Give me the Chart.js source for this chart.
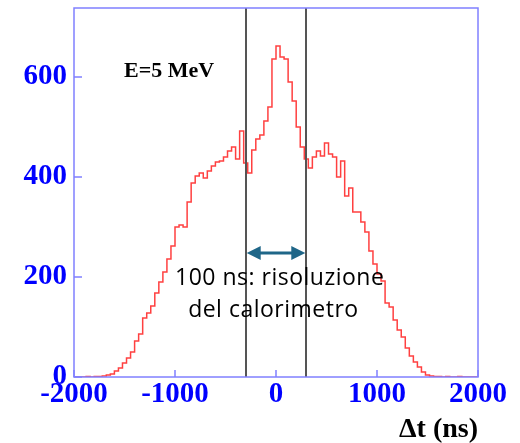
<!DOCTYPE html>
<html>
<head>
<meta charset="utf-8">
<script src="https://cdn.jsdelivr.net/npm/chart.js@4/dist/chart.umd.min.js"></script>
<style>
  html, body { margin: 0; padding: 0; background: #fff; }
  #wrap { width: 520px; height: 443px; }
</style>
</head>
<body>
<div id="wrap"><canvas id="myChart"></canvas></div>
<script>
// histogram of time differences, 40 ns bins starting at -2000
const binStart = -2000;
const binWidth = 40;
const conteggi = [
  0, 0, 0, 1, 0, 1, 1, 2, 4, 6,
  12, 18, 28, 38, 50, 72, 86, 118, 128, 142,
  168, 190, 210, 236, 262, 300, 304, 300, 350, 388,
  402, 408, 398, 412, 422, 430, 432, 440, 452, 460,
  436, 492, 428, 408, 454, 476, 484, 512, 540, 636,
  662, 640, 636, 590, 552, 500, 460, 436, 418, 440,
  452, 442, 468, 446, 440, 400, 432, 362, 378, 330,
  330, 310, 290, 252, 226, 206, 192, 148, 140, 114,
  94, 80, 58, 42, 30, 20, 10, 4, 2, 1,
  1, 0, 1, 0, 0, 1, 0, 0, 0, 0
];
const xTicks = [-2000, -1000, 0, 1000, 2000];
const yTicks = [0, 200, 400, 600];
const lineeVerticali = [-300, 300];   // 100 ns window markers
const frecciaY = 248;
const etichettaEnergia = 'E=5 MeV';
const notaRighe = ['100 ns: risoluzione', 'del calorimetro'];
const titoloAsseX = '\u0394t (ns)';

let punti = conteggi.map((c, i) => ({ x: binStart + i * binWidth, y: c }));
punti.push({ x: binStart + conteggi.length * binWidth, y: conteggi[conteggi.length - 1] });

const blu = '#0000ff';
const bordo = '#8080ff';

const decorazioni = {
  id: 'decorazioni',
  afterDatasetsDraw(chart) {
    const { ctx, chartArea: a, scales } = chart;
    const sx = scales.x, sy = scales.y;
    ctx.save();
    // vertical marker lines
    ctx.strokeStyle = '#555';
    ctx.lineWidth = 2;
    lineeVerticali.forEach(v => {
      const px = Math.round(sx.getPixelForValue(v));
      ctx.beginPath();
      ctx.moveTo(px, a.top);
      ctx.lineTo(px, a.bottom);
      ctx.stroke();
    });
    // frame
    ctx.strokeStyle = bordo;
    ctx.lineWidth = 1.5;
    ctx.strokeRect(a.left, a.top, a.right - a.left, a.bottom - a.top);
    // inward ticks
    ctx.beginPath();
    xTicks.forEach(v => {
      const px = sx.getPixelForValue(v);
      ctx.moveTo(px, a.bottom);
      ctx.lineTo(px, a.bottom - 7);
    });
    yTicks.forEach(v => {
      const py = sy.getPixelForValue(v);
      ctx.moveTo(a.left, py);
      ctx.lineTo(a.left + 8, py);
    });
    ctx.stroke();
    // double arrow
    const x1 = sx.getPixelForValue(lineeVerticali[0]) + 1;
    const x2 = sx.getPixelForValue(lineeVerticali[1]) - 1;
    const ay = sy.getPixelForValue(frecciaY);
    ctx.strokeStyle = '#1f6688';
    ctx.fillStyle = '#1f6688';
    ctx.lineWidth = 3;
    ctx.beginPath();
    ctx.moveTo(x1 + 10, ay);
    ctx.lineTo(x2 - 10, ay);
    ctx.stroke();
    ctx.beginPath();
    ctx.moveTo(x1, ay); ctx.lineTo(x1 + 14, ay - 7); ctx.lineTo(x1 + 14, ay + 7); ctx.closePath();
    ctx.moveTo(x2, ay); ctx.lineTo(x2 - 14, ay - 7); ctx.lineTo(x2 - 14, ay + 7); ctx.closePath();
    ctx.fill();
    ctx.restore();
  },
  afterDraw(chart) {
    const { ctx, chartArea: a, scales } = chart;
    const sx = scales.x, sy = scales.y;
    ctx.save();
    ctx.fillStyle = '#000';
    ctx.textBaseline = 'middle';
    ctx.textAlign = 'left';
    ctx.font = 'bold 22px "Liberation Serif", serif';
    ctx.fillText(etichettaEnergia, sx.getPixelForValue(-1505), sy.getPixelForValue(612));
    ctx.font = '23px "Open Sans", sans-serif';
    ctx.letterSpacing = '0.5px';
    ctx.fillText(notaRighe[0], sx.getPixelForValue(-1000), sy.getPixelForValue(198));
    ctx.fillText(notaRighe[1], sx.getPixelForValue(-870), sy.getPixelForValue(134));
    ctx.letterSpacing = '0px';
    ctx.font = 'bold 28px "Liberation Serif", serif';
    ctx.textAlign = 'right';
    ctx.fillText(titoloAsseX, a.right, 430);
    ctx.restore();
  }
};

const ctx = document.getElementById('myChart').getContext('2d');
const myChart = new Chart(ctx, {
  type: 'line',
  data: {
    datasets: [{
      data: punti,
      stepped: 'before',
      borderColor: 'rgba(255, 30, 30, 0.85)',
      borderWidth: 1.5,
      pointRadius: 0,
      fill: false
    }]
  },
  options: {
    responsive: true,
    maintainAspectRatio: false,
    animation: false,
    layout: { padding: { top: 8, right: 42, left: 0, bottom: 0 } },
    plugins: { legend: { display: false }, tooltip: { enabled: false } },
    scales: {
      x: {
        type: 'linear',
        min: -2000,
        max: 2000,
        afterBuildTicks: s => { s.ticks = xTicks.map(v => ({ value: v })); },
        afterFit: s => { s.height = 66; s.paddingLeft = 0; s.paddingRight = 0; },
        grid: { display: false, drawTicks: false },
        border: { display: false },
        ticks: {
          color: blu,
          font: { family: '"Liberation Serif", serif', size: 29, weight: 'bold' },
          padding: 0,
          maxRotation: 0,
          autoSkip: false,
          callback: v => String(v)
        }
      },
      y: {
        min: 0,
        max: 738,
        afterBuildTicks: s => { s.ticks = yTicks.map(v => ({ value: v })); },
        afterFit: s => { s.width = 74; s.paddingTop = 0; s.paddingBottom = 0; },
        grid: { display: false, drawTicks: false },
        border: { display: false },
        ticks: {
          color: blu,
          font: { family: '"Liberation Serif", serif', size: 29, weight: 'bold' },
          padding: 7,
          callback: v => String(v)
        }
      }
    }
  },
  plugins: [decorazioni]
});
</script>
</body>
</html>
